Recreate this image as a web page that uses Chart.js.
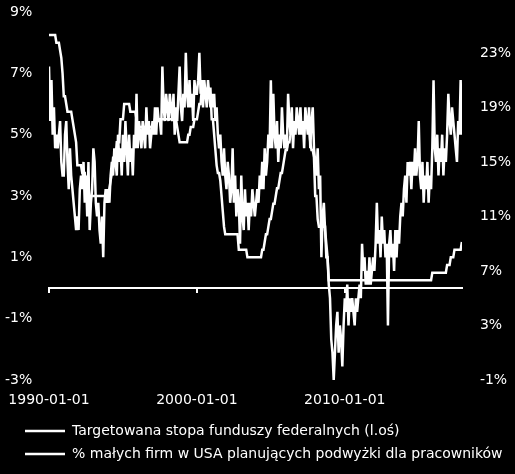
<!DOCTYPE html>
<html>
<head>
<meta charset="utf-8">
<script src="https://cdn.jsdelivr.net/npm/chart.js@4.4.1/dist/chart.umd.min.js"></script>
<style>
  html, body { margin: 0; padding: 0; background: #000; }
  #wrap { width: 515px; height: 474px; }
</style>
</head>
<body>
<div id="wrap"><canvas id="chart"></canvas></div>
<script>
// ── Data (monthly, Jan 1990 – Dec 2017) ─────────────────────
const START_YEAR  = 1990;
const X_TICKS     = [1990, 2000, 2010];
const LEFT_TICKS  = [-3, -1, 1, 3, 5, 7, 9];
const RIGHT_TICKS = [-1, 3, 7, 11, 15, 19, 23];
const SERIES_LABELS = [
  'Targetowana stopa funduszy federalnych (l.oś)',
  '% małych firm w USA planujących podwyżki dla pracowników'
];

// Fed funds target rate, % (left axis)
const FED_RATE = [
  8.25, 8.25, 8.25, 8.25, 8.25, 8.25, 8, 8, 8, 7.75, 7.5, 7,          // 1990
  6.25, 6.25, 6, 5.75, 5.75, 5.75, 5.75, 5.5, 5.25, 5, 4.75, 4,       // 1991
  4, 4, 4, 3.75, 3.75, 3.75, 3.25, 3.25, 3, 3, 3, 3,                  // 1992
  3, 3, 3, 3, 3, 3, 3, 3, 3, 3, 3, 3,                                 // 1993
  3, 3.25, 3.5, 3.75, 4.25, 4.25, 4.25, 4.75, 4.75, 4.75, 5.5, 5.5,   // 1994
  5.5, 6, 6, 6, 6, 6, 5.75, 5.75, 5.75, 5.75, 5.75, 5.5,              // 1995
  5.25, 5.25, 5.25, 5.25, 5.25, 5.25, 5.25, 5.25, 5.25, 5.25, 5.25, 5.25, // 1996
  5.25, 5.25, 5.5, 5.5, 5.5, 5.5, 5.5, 5.5, 5.5, 5.5, 5.5, 5.5,       // 1997
  5.5, 5.5, 5.5, 5.5, 5.5, 5.5, 5.5, 5.5, 5.25, 5, 4.75, 4.75,        // 1998
  4.75, 4.75, 4.75, 4.75, 4.75, 5, 5, 5.25, 5.25, 5.25, 5.5, 5.5,     // 1999
  5.5, 5.75, 6, 6, 6.5, 6.5, 6.5, 6.5, 6.5, 6.5, 6.5, 6.5,            // 2000
  5.5, 5.5, 5, 4.5, 4, 3.75, 3.75, 3.5, 3, 2.5, 2, 1.75,              // 2001
  1.75, 1.75, 1.75, 1.75, 1.75, 1.75, 1.75, 1.75, 1.75, 1.75, 1.25, 1.25, // 2002
  1.25, 1.25, 1.25, 1.25, 1.25, 1, 1, 1, 1, 1, 1, 1,                  // 2003
  1, 1, 1, 1, 1, 1.25, 1.25, 1.5, 1.75, 1.75, 2, 2.25,                // 2004
  2.25, 2.5, 2.75, 2.75, 3, 3.25, 3.25, 3.5, 3.75, 3.75, 4, 4.25,     // 2005
  4.5, 4.5, 4.75, 4.75, 5, 5.25, 5.25, 5.25, 5.25, 5.25, 5.25, 5.25,  // 2006
  5.25, 5.25, 5.25, 5.25, 5.25, 5.25, 5.25, 5.25, 4.75, 4.5, 4.5, 4.25, // 2007
  3, 3, 2.25, 2, 2, 2, 2, 2, 2, 1, 1, 0.25,                           // 2008
  0.25, 0.25, 0.25, 0.25, 0.25, 0.25, 0.25, 0.25, 0.25, 0.25, 0.25, 0.25, // 2009
  0.25, 0.25, 0.25, 0.25, 0.25, 0.25, 0.25, 0.25, 0.25, 0.25, 0.25, 0.25, // 2010
  0.25, 0.25, 0.25, 0.25, 0.25, 0.25, 0.25, 0.25, 0.25, 0.25, 0.25, 0.25, // 2011
  0.25, 0.25, 0.25, 0.25, 0.25, 0.25, 0.25, 0.25, 0.25, 0.25, 0.25, 0.25, // 2012
  0.25, 0.25, 0.25, 0.25, 0.25, 0.25, 0.25, 0.25, 0.25, 0.25, 0.25, 0.25, // 2013
  0.25, 0.25, 0.25, 0.25, 0.25, 0.25, 0.25, 0.25, 0.25, 0.25, 0.25, 0.25, // 2014
  0.25, 0.25, 0.25, 0.25, 0.25, 0.25, 0.25, 0.25, 0.25, 0.25, 0.25, 0.5,  // 2015
  0.5, 0.5, 0.5, 0.5, 0.5, 0.5, 0.5, 0.5, 0.5, 0.5, 0.5, 0.75,        // 2016
  0.75, 0.75, 1, 1, 1, 1.25, 1.25, 1.25, 1.25, 1.25, 1.25, 1.5        // 2017
];

// % of small firms planning to raise compensation (right axis)
const WAGE_PLANS = [
  22, 18, 21, 17, 19, 16, 17, 16, 17, 18, 15, 14,   // 1990
  14, 17, 18, 15, 13, 16, 14, 13, 12, 11, 10, 11,   // 1991
  10, 13, 14, 13, 15, 12, 14, 11, 15, 10, 12, 13,   // 1992
  16, 15, 12, 11, 12, 10, 9, 11, 8, 12, 13, 12,     // 1993
  13, 12, 14, 15, 14, 16, 15, 14, 17, 15, 16, 14,   // 1994
  17, 15, 18, 16, 14, 17, 15, 16, 14, 17, 16, 20,   // 1995
  16, 18, 17, 16, 18, 17, 16, 19, 17, 18, 16, 17,   // 1996
  18, 17, 19, 17, 19, 18, 18, 17, 22, 19, 18, 20,   // 1997
  19, 18, 20, 19, 18, 20, 17, 19, 18, 20, 22, 19,   // 1998
  18, 20, 19, 23, 20, 19, 21, 19, 20, 18, 21, 20,   // 1999
  20, 21, 23, 20, 21, 19, 21, 20, 19, 21, 20, 19,   // 2000
  20, 19, 20, 18, 19, 17, 16, 17, 15, 14, 16, 14,   // 2001
  13, 15, 14, 12, 13, 16, 12, 14, 11, 13, 12, 9,    // 2002
  14, 11, 10, 13, 11, 12, 10, 12, 11, 13, 12, 11,   // 2003
  12, 13, 12, 14, 13, 15, 13, 16, 14, 15, 17, 16,   // 2004
  21, 16, 20, 17, 16, 18, 15, 17, 16, 19, 17, 16,   // 2005
  17, 16, 20, 18, 17, 19, 16, 18, 17, 19, 18, 17,   // 2006
  19, 17, 18, 16, 19, 18, 17, 19, 16, 18, 19, 16,   // 2007
  15, 14, 16, 13, 14, 8, 11, 12, 10, 9, 8, 6,       // 2008
  5, 2, 1, -1, 1, 3, 4, 1, 3, 2, 0, 3,              // 2009
  5, 4, 6, 3, 5, 4, 5, 4, 3, 5, 4, 5,               // 2010
  6, 5, 9, 7, 8, 6, 7, 6, 8, 6, 7, 8,               // 2011
  7, 9, 12, 9, 10, 8, 11, 9, 10, 8, 9, 3,           // 2012
  9, 10, 8, 9, 7, 10, 8, 10, 9, 11, 12, 11,         // 2013
  13, 14, 12, 15, 14, 15, 13, 15, 14, 16, 14, 15,   // 2014
  18, 14, 13, 15, 12, 14, 13, 15, 12, 14, 13, 16,   // 2015
  21, 16, 15, 17, 14, 16, 15, 17, 14, 16, 15, 17,   // 2016
  20, 18, 17, 19, 18, 17, 16, 15, 18, 17, 21, 17    // 2017
];

// ── Helpers ─────────────────────────────────────────────────
const toPoints = arr => arr.map((v, i) => ({ x: START_YEAR + i / 12, y: v }));
const fixTicks = list => axis => { axis.ticks = list.map(v => ({ value: v })); };
const pct = v => v + '%';
const X_MAX = START_YEAR + (FED_RATE.length - 1) / 12;

Chart.defaults.font.family = "'DejaVu Sans', sans-serif";
Chart.defaults.font.size = 14;
Chart.defaults.color = '#fff';

// ── Chart ───────────────────────────────────────────────────
new Chart(document.getElementById('chart'), {
  type: 'line',
  data: {
    datasets: [
      { label: SERIES_LABELS[0], data: toPoints(FED_RATE), yAxisID: 'y',
        borderColor: '#fff', backgroundColor: '#fff', borderWidth: 2.5, pointRadius: 0, tension: 0 },
      { label: SERIES_LABELS[1], data: toPoints(WAGE_PLANS), yAxisID: 'y1',
        borderColor: '#fff', backgroundColor: '#fff', borderWidth: 2.5, pointRadius: 0, tension: 0 }
    ]
  },
  options: {
    responsive: true,
    maintainAspectRatio: false,
    animation: false,
    layout: { padding: { left: 16, right: 4, top: 12, bottom: 3 } },
    plugins: {
      legend: {
        position: 'bottom', align: 'start',
        labels: { usePointStyle: true, pointStyle: 'line', pointStyleWidth: 40, padding: 9, color: '#fff' }
      },
      tooltip: { enabled: false }
    },
    scales: {
      x: {
        type: 'linear', min: START_YEAR, max: X_MAX,
        afterBuildTicks: fixTicks(X_TICKS),
        afterFit: s => { s.height = 35; },
        ticks: { callback: v => v + '-01-01', padding: 2, maxRotation: 0, autoSkip: false },
        grid: { display: false, drawTicks: true, tickLength: 10 },
        border: { display: false }
      },
      // zero line with small ticks
      x0: {
        type: 'linear', position: { y: 0 }, min: START_YEAR, max: X_MAX,
        afterBuildTicks: fixTicks(X_TICKS),
        ticks: { display: false },
        grid: { drawOnChartArea: false, drawTicks: true, tickLength: 4, color: '#fff', lineWidth: 2 },
        border: { color: '#fff', width: 2 }
      },
      // labels right-aligned at x≈33, mirrored so they are not clipped
      y: {
        position: 'left', min: -3, max: 9,
        afterBuildTicks: fixTicks(LEFT_TICKS),
        afterFit: s => { s.width = 33; },
        ticks: { callback: pct, mirror: true, crossAlign: 'far', padding: -44 },
        grid: { display: false, drawTicks: false },
        border: { display: false }
      },
      y1: {
        position: 'right', min: -1, max: 26,
        afterBuildTicks: fixTicks(RIGHT_TICKS),
        ticks: { callback: pct, padding: 0 },
        grid: { display: false, drawTicks: true, tickLength: 18 },
        border: { display: false }
      }
    }
  }
});
</script>
</body>
</html>
